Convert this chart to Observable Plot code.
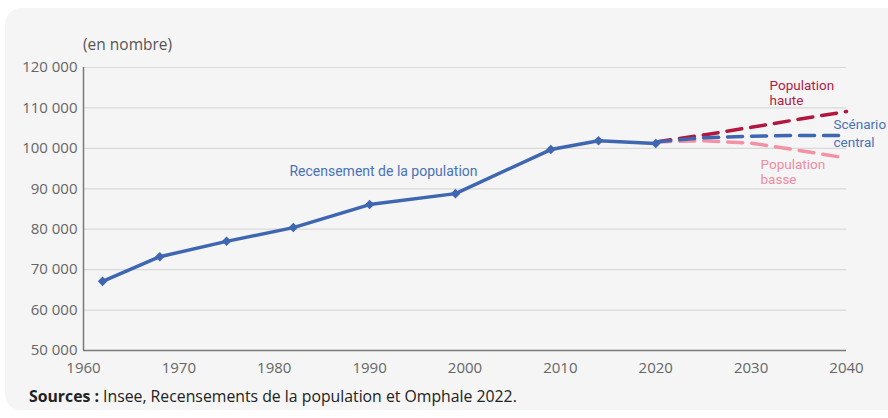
<!DOCTYPE html>
<html><head><meta charset="utf-8">
<script src="https://cdn.jsdelivr.net/npm/d3@7"></script>
<script src="https://cdn.jsdelivr.net/npm/@observablehq/plot@0.6"></script>
<style>
body{margin:0;background:#fff;width:888px;height:418px;overflow:hidden;font-family:"Open Sans",sans-serif;position:relative}
#panel{position:absolute;left:5px;top:8px;width:900px;height:402px;border-radius:16px;background:#f5f5f5}
#chart{position:absolute;left:0;top:0}
#unit{position:absolute;left:83px;top:33px;font-size:15.5px;color:#555}
#caption{position:absolute;left:29px;top:385px;font-size:15.8px;color:#222}
</style></head><body>
<div id="panel"></div>
<div id="chart"></div>
<div id="unit">(en nombre)</div>
<div id="caption"><b>Sources :</b> Insee, Recensements de la population et Omphale 2022.</div>
<script>
const censusYears = [1962, 1968, 1975, 1982, 1990, 1999, 2009, 2014, 2020];
const censusPop = [67100, 73200, 77000, 80400, 86100, 88800, 99700, 101900, 101200];
const projYears = [2020, 2025, 2030, 2035, 2040];
const projHaute = [101600, 103300, 105200, 107200, 109100];
const projCentral = [101600, 102600, 103000, 103200, 103200];
const projBasse = [101600, 101900, 101300, 99500, 97600];
const xTicks = [1960, 1970, 1980, 1990, 2000, 2010, 2020, 2030, 2040];
const yTicks = [50000, 60000, 70000, 80000, 90000, 100000, 110000, 120000];
const seriesNames = ["basse", "haute", "central"];
const seriesLabels = {haute: "Population\nhaute", central: "Scénario\ncentral", basse: "Population\nbasse"};
const censusLabel = "Recensement de la population";

const colors = {haute: "#b3173f", central: "#3f67b1", basse: "#f391a5"};
const textColors = {haute: "#b01c44", central: "#4a72b8", basse: "#f08ca0"};
const fmt = d => d3.format(",")(d).replace(/,/g, "\u00a0");

const census = censusYears.map((y, i) => ({year: y, pop: censusPop[i]}));
const projValues = {haute: projHaute, central: projCentral, basse: projBasse};
const proj = s => projYears.map((y, i) => ({year: y, pop: projValues[s][i]}));
const last = s => [proj(s)[projYears.length - 1]];

const labelOffsets = {haute: {dx: -77, dy: -19, lh: 1.1}, central: {dx: -13, dy: -3, lh: 1.35}, basse: {dx: -86, dy: 14, lh: 1.1}};

const chart = Plot.plot({
  width: 888, height: 385,
  marginLeft: 83, marginRight: 42, marginTop: 67, marginBottom: 35,
  x: {domain: [1960, 2040]},
  y: {domain: [50000, 120000]},
  style: {background: "transparent", fontFamily: "Open Sans", fontSize: "15px", color: "#666", overflow: "visible"},
  marks: [
    Plot.ruleY(yTicks.slice(1), {stroke: "#d9d9d9", strokeWidth: 1.2}),
    Plot.axisX({ticks: xTicks, tickSize: 0, tickPadding: 12, tickFormat: d => String(d), label: null, fontSize: 15}),
    Plot.axisY({ticks: yTicks, tickSize: 0, tickPadding: 6, tickFormat: fmt, label: null, fontSize: 15}),
    Plot.ruleX([1960], {stroke: "#7a7a7a", strokeWidth: 1.5}),
    Plot.ruleY([50000], {stroke: "#7a7a7a", strokeWidth: 1.5}),
    ...seriesNames.map(s => Plot.line(proj(s), {x: "year", y: "pop", stroke: colors[s], strokeWidth: 3.5, strokeDasharray: "15,9"})),
    Plot.line(census, {x: "year", y: "pop", stroke: "#3f67b1", strokeWidth: 3.5}),
    Plot.dot(census, {x: "year", y: "pop", symbol: "diamond2", r: 4.3, fill: "#3f67b1", stroke: "none"}),
    ...seriesNames.map(s => Plot.text(last(s), {x: "year", y: "pop", text: () => seriesLabels[s], textAnchor: "start",
      dx: labelOffsets[s].dx, dy: labelOffsets[s].dy, lineHeight: labelOffsets[s].lh,
      fill: textColors[s], fontFamily: "Roboto", fontSize: 13.5})),
    Plot.text([census[5]], {x: "year", y: "pop", text: () => censusLabel, dx: -72, dy: -22, fill: "#4a72b8", fontFamily: "Roboto", fontSize: 14})
  ]
});
document.getElementById("chart").appendChild(chart);
</script>
</body></html>
